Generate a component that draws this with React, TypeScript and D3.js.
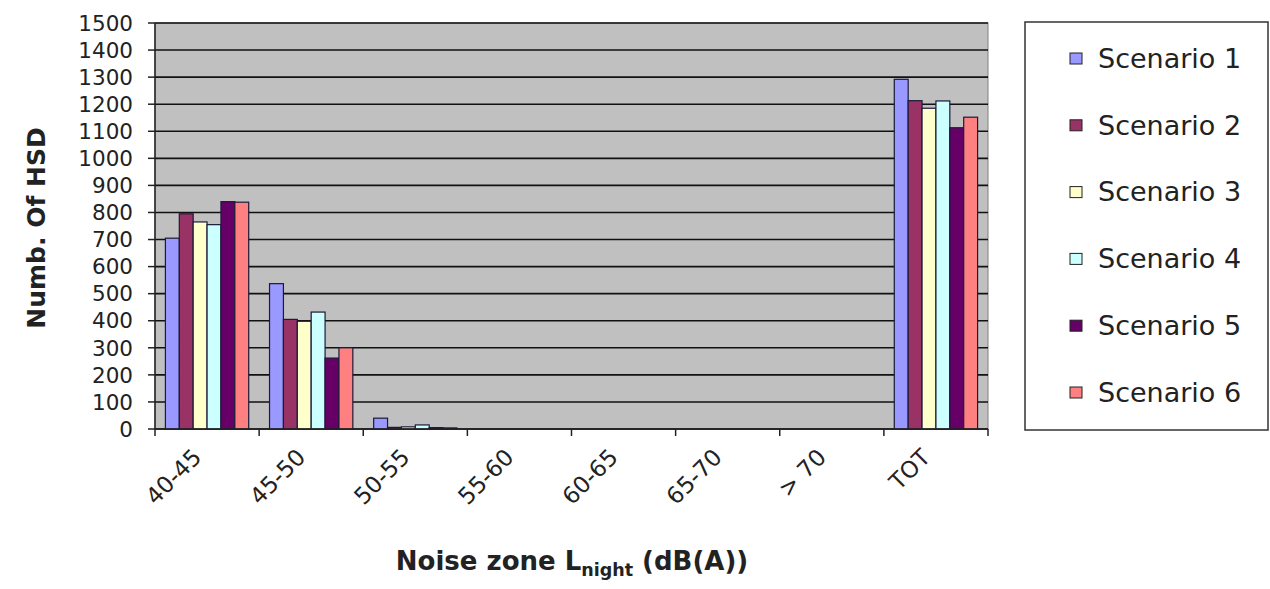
import * as d3 from "d3";

const categories = ["40-45", "45-50", "50-55", "55-60", "60-65", "65-70", "> 70", "TOT"];
const seriesNames = ["Scenario 1", "Scenario 2", "Scenario 3", "Scenario 4", "Scenario 5", "Scenario 6"];
const scenario1 = [705, 537, 40, 0, 0, 0, 0, 1292];
const scenario2 = [795, 405, 6, 0, 0, 0, 0, 1213];
const scenario3 = [765, 398, 8, 0, 0, 0, 0, 1185];
const scenario4 = [755, 432, 15, 0, 0, 0, 0, 1212];
const scenario5 = [840, 262, 5, 0, 0, 0, 0, 1113];
const scenario6 = [838, 300, 4, 0, 0, 0, 0, 1152];
const yTicks = [0, 100, 200, 300, 400, 500, 600, 700, 800, 900, 1000, 1100, 1200, 1300, 1400, 1500];
const colors = ["#9999FF", "#993366", "#FFFFCC", "#CCFFFF", "#660066", "#FF8080"];

const seriesValues = [scenario1, scenario2, scenario3, scenario4, scenario5, scenario6];

const W = 1270;
const H = 589;
const plot = { left: 155, right: 988, top: 23, bottom: 429 };
const font = "'DejaVu Sans', sans-serif";

export default function App() {
  const x0 = d3.scaleBand<string>().domain(categories).range([plot.left, plot.right]).padding(0);
  const x1 = d3
    .scaleBand<string>()
    .domain(seriesNames)
    .range([0, x0.bandwidth()])
    .paddingInner(0)
    .paddingOuter(0.75);
  const y = d3.scaleLinear().domain([0, 1500]).range([plot.bottom, plot.top]);

  // category boundaries for the x tick marks
  const boundaries = categories.map((c) => x0(c)!).concat([plot.right]);

  return (
    <svg
      width={W}
      height={H}
      style={{ position: "absolute", left: 0, top: 0, background: "#fff" }}
      fontFamily={font}
    >
      {/* plot area */}
      <rect
        x={plot.left}
        y={plot.top}
        width={plot.right - plot.left}
        height={plot.bottom - plot.top}
        fill="#C0C0C0"
        stroke="#808080"
        strokeWidth={1}
      />
      {yTicks.map((t) => (
        <line key={"g" + t} x1={plot.left} x2={plot.right} y1={y(t)} y2={y(t)} stroke="#111" strokeWidth={1.6} />
      ))}

      {/* bars */}
      {seriesValues.map((vals, si) =>
        vals.map((v, ci) => (
          <rect
            key={`b${si}-${ci}`}
            x={x0(categories[ci])! + x1(seriesNames[si])!}
            y={y(v)}
            width={x1.bandwidth()}
            height={y(0) - y(v)}
            fill={colors[si]}
            stroke="#1a1a3a"
            strokeWidth={1.2}
          />
        ))
      )}

      {/* y axis */}
      <line x1={plot.left} x2={plot.left} y1={plot.top} y2={plot.bottom} stroke="#222" strokeWidth={1.5} />
      {yTicks.map((t) => (
        <g key={"yt" + t}>
          <line x1={plot.left - 7} x2={plot.left} y1={y(t)} y2={y(t)} stroke="#222" strokeWidth={1.5} />
          <text x={133} y={y(t)} dy="0.36em" textAnchor="end" fontSize={21.5} fill="#222">
            {t}
          </text>
        </g>
      ))}

      {/* x axis */}
      <line x1={plot.left} x2={plot.right} y1={plot.bottom} y2={plot.bottom} stroke="#222" strokeWidth={1.5} />
      {boundaries.map((bx, i) => (
        <line key={"xt" + i} x1={bx} x2={bx} y1={plot.bottom} y2={plot.bottom + 7} stroke="#222" strokeWidth={1.5} />
      ))}
      {categories.map((c) => {
        const cx = x0(c)! + x0.bandwidth() / 2;
        return (
          <text
            key={"xl" + c}
            transform={`translate(${cx - 10},${plot.bottom + 24}) rotate(-45)`}
            textAnchor="end"
            dy="0.35em"
            fontSize={23}
            fill="#222"
          >
            {c}
          </text>
        );
      })}

      {/* axis titles */}
      <text transform="translate(45,228) rotate(-90)" textAnchor="middle" fontSize={25} fontWeight="bold" fill="#222">
        Numb. Of HSD
      </text>
      <text x={572} y={570} textAnchor="middle" fontSize={26} fontWeight="bold" fill="#222">
        Noise zone L
        <tspan fontSize={17.5} dy={6}>
          night
        </tspan>
        <tspan dy={-6}> (dB(A))</tspan>
      </text>

      {/* legend */}
      <rect x={1025} y={22} width={243} height={408} fill="#fff" stroke="#333" strokeWidth={1.5} />
      {seriesNames.map((s, i) => {
        const cy = 58 + i * 66.8;
        return (
          <g key={"lg" + s}>
            <rect x={1070} y={cy - 5} width={12} height={11} fill={colors[i]} stroke="#222" strokeWidth={1} />
            <text x={1098} y={cy} dy="0.36em" fontSize={27} fill="#222">
              {s}
            </text>
          </g>
        );
      })}
    </svg>
  );
}
